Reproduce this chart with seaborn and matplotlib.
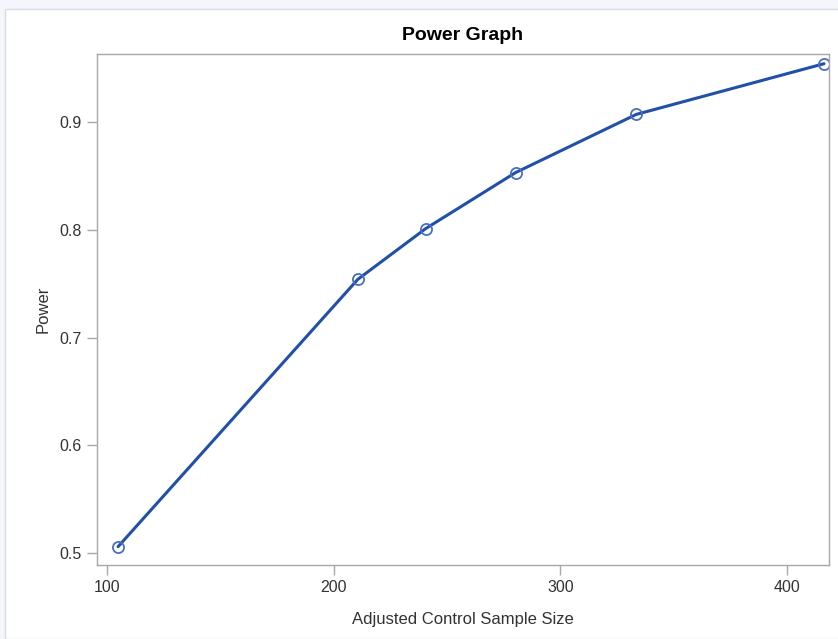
import pandas as pd
import seaborn as sns
import matplotlib.pyplot as plt
from matplotlib.patches import Rectangle

# values
sample_size = [104.8, 210.6, 240.5, 280.2, 333.5, 416.3]
power = [0.506, 0.754, 0.801, 0.853, 0.907, 0.954]

df = pd.DataFrame({'n': sample_size, 'power': power})

sns.set_style('white')
plt.rcParams['font.family'] = ['Liberation Sans', 'DejaVu Sans']

fig = plt.figure(figsize=(8.38, 6.39), dpi=100, facecolor='#f4f6fb')
# white panel behind the graph
panel = Rectangle((5 / 838, 0), 1, 1 - 9 / 639, transform=fig.transFigure,
                  facecolor='white', edgecolor='#d6dbe6', lw=1, zorder=-5)
fig.add_artist(panel)

ax = fig.add_axes([97 / 838, 1 - 565 / 639, 732 / 838, 511 / 639])
ax.set_zorder(2)
ax.set_facecolor('white')

sns.lineplot(data=df, x='n', y='power', ax=ax, color='#2150a8', lw=2.2,
             marker='o', markersize=8, markerfacecolor='none',
             markeredgecolor='#4a6fc0', markeredgewidth=1.3)

ax.set_xlim(95.5, 418.5)
ax.set_ylim(0.489, 0.963)
ax.set_xticks([100, 200, 300, 400])
ax.set_yticks([0.5, 0.6, 0.7, 0.8, 0.9])
ax.set_yticklabels(['0.5', '0.6', '0.7', '0.8', '0.9'])

for s in ax.spines.values():
    s.set_color('#a8a8a8')
    s.set_linewidth(1)
ax.tick_params(axis='both', length=7, width=1, color='#a8a8a8', pad=4,
               labelsize=11.5, labelcolor='#333333', direction='out')
ax.tick_params(axis='both', bottom=True, left=True)

ax.set_xlabel('Adjusted Control Sample Size', fontsize=12, color='#333333', labelpad=12)
ax.set_ylabel('Power', fontsize=12, color='#333333', labelpad=6)
ax.set_title('Power Graph', fontsize=14, fontweight='bold', color='black', pad=10)

fig.savefig('out.png', dpi=100, facecolor=fig.get_facecolor())
